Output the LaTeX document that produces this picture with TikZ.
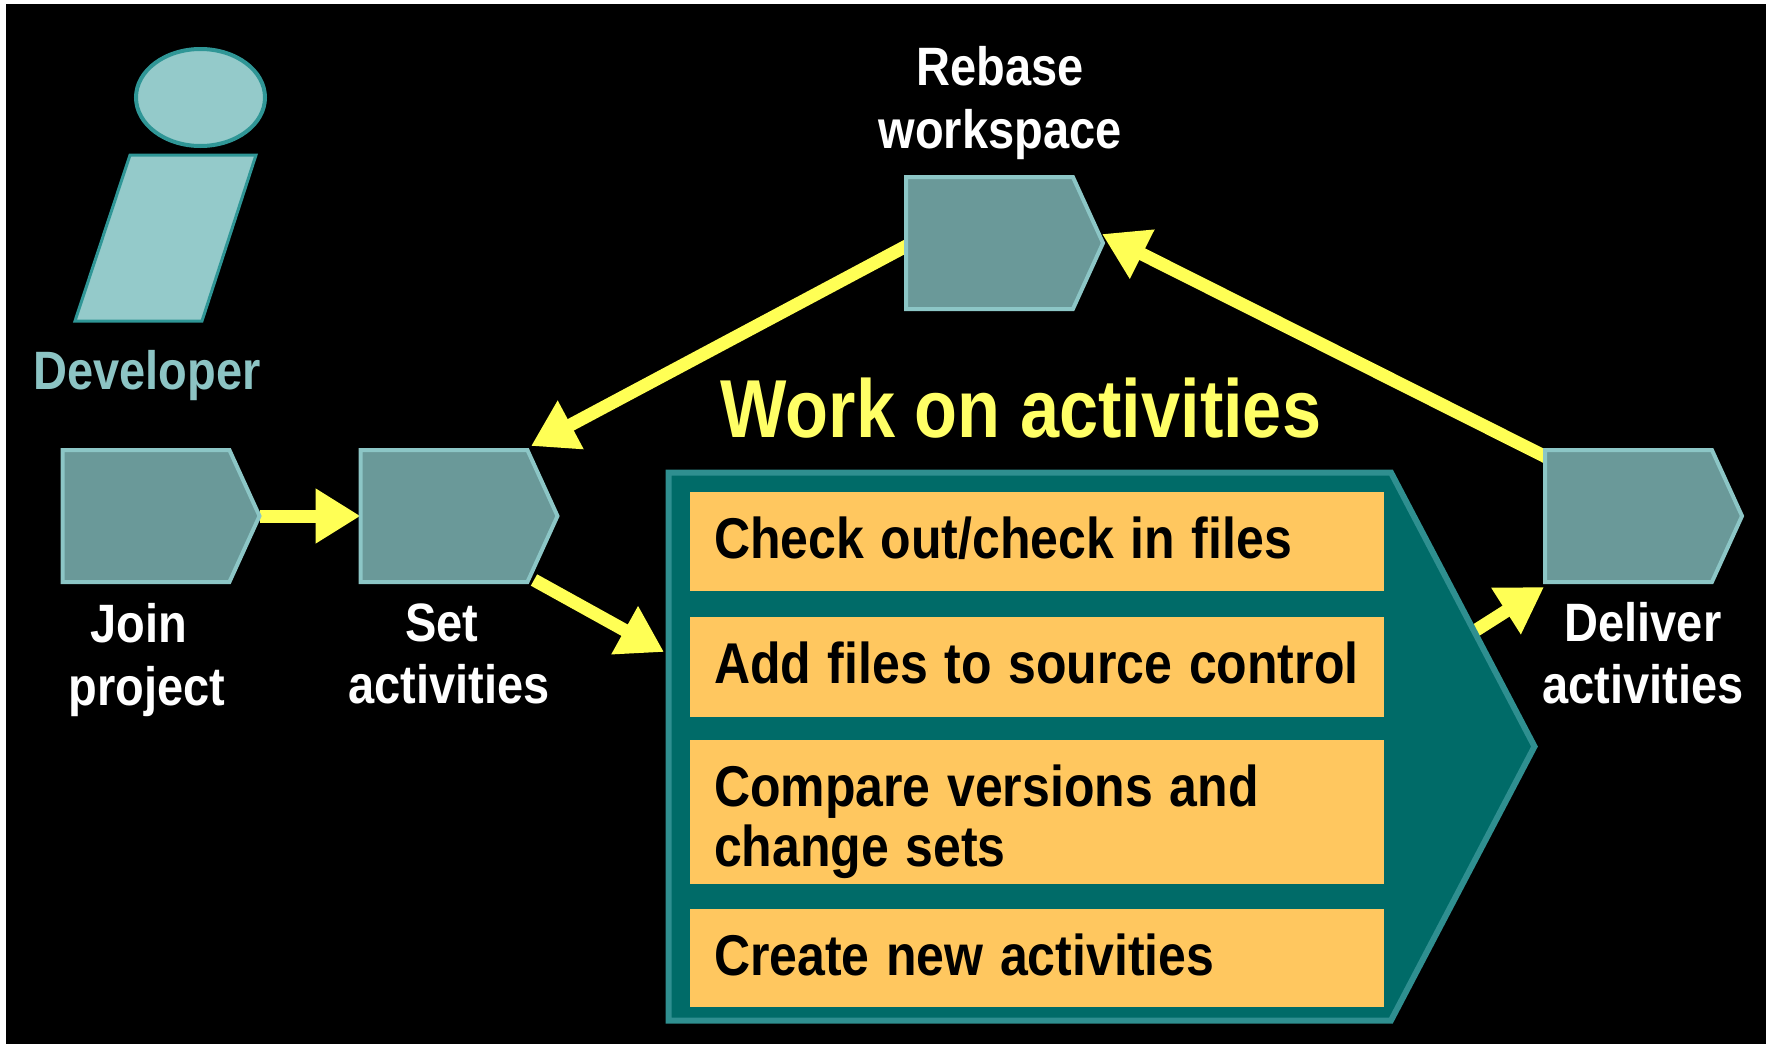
\documentclass[tikz,border=0pt]{standalone}
\usepackage{fontspec}
\setmainfont{Liberation Sans}
\usetikzlibrary{arrows.meta,shapes.symbols,shapes.geometric}
\pgfdeclarelayer{bg}
\pgfdeclarelayer{wires}
\pgfsetlayers{bg,wires,main}
\definecolor{boxfill}{HTML}{6A9999}
\definecolor{boxline}{HTML}{8CC6C6}
\definecolor{actor}{HTML}{94CACA}
\definecolor{actorline}{HTML}{2F9696}
\definecolor{bigfill}{HTML}{006B68}
\definecolor{bigline}{HTML}{2F8F90}
\definecolor{orangebox}{HTML}{FFC75F}
\definecolor{wire}{HTML}{FFFF55}
\definecolor{titleyellow}{HTML}{FFFF66}
\definecolor{devtext}{HTML}{8CC4C4}
\tikzset{
  stepbox/.style={signal,signal to=east,signal pointer angle=131,draw=boxline,fill=boxfill,line width=4pt,
    minimum width=197pt,minimum height=132pt,inner sep=0pt,outer sep=0pt,anchor=west},
  bigbox/.style={signal,signal to=east,signal pointer angle=124.7,draw=bigline,fill=bigfill,line width=6pt,
    minimum width=866pt,minimum height=548pt,inner sep=0pt,outer sep=0pt,anchor=west},
  task/.style={fill=orangebox,anchor=north west,inner ysep=0pt,inner xsep=24pt,text width=646pt,align=left,
    transform shape,yscale=1.15,text=black,font=\bfseries\fontsize{50}{52}\selectfont,outer sep=0pt},
  steplabel/.style={text=white,align=center,inner sep=0pt,transform shape,yscale=1.15,
    font=\bfseries\fontsize{47}{54}\selectfont},
  link/.style={draw=wire,line width=13pt,-{Triangle[length=45pt,width=52pt,color=wire]}},
}
\begin{document}
\begin{tikzpicture}[x=1pt,y=-1pt]
\useasboundingbox (0,0) rectangle (1772,1044);
\begin{pgfonlayer}{bg}
  \fill[white] (0,0) rectangle (1772,1044);
  \fill[black] (6,4) rectangle (1766,1044);
\end{pgfonlayer}
% actor
\node[ellipse,draw=actorline,fill=actor,line width=4pt,minimum width=129pt,minimum height=97pt,inner sep=0pt] (head) at (200.5,97.5) {};
\draw[draw=actorline,fill=actor,line width=3pt] (130,155) -- (256,155) -- (202,321) -- (75,321) -- cycle;
\node[text=devtext,inner sep=0pt,anchor=base,transform shape,yscale=1.15,font=\bfseries\fontsize{47}{54}\selectfont] (dev) at (147,389) {Developer};
% step boxes
\node[stepbox] (join) at (62.5,516) {};
\node[stepbox] (set) at (360.5,516) {};
\node[stepbox] (rebase) at (906,243) {};
\node[stepbox] (deliver) at (1545,516) {};
\node[bigbox] (work) at (668.5,746.5) {};
% labels
\node[steplabel] (joinl) at (147,660) {\hspace*{-16pt}Join\\project};
\node[steplabel] (setl) at (449,654) {\hspace*{-14pt}Set\\activities};
\node[steplabel] (deliverl) at (1643,653) {Deliver\\activities};
\node[steplabel] (rebasel) at (1000,103) {Rebase\\workspace};
\node[text=titleyellow,inner sep=0pt,anchor=base,transform shape,yscale=1.17,font=\bfseries\fontsize{70.3}{80}\selectfont] (title) at (1021,437) {Work on activities};
% tasks
\node[task,text height=57.6pt,text depth=28.5pt] (t1) at (690,492) {\mbox{Check out/check in files}};
\node[task,text height=57.6pt,text depth=29.3pt] (t2) at (690,617) {\mbox{Add files to source control}};
\node[task,text height=58.1pt,text depth=66.9pt] (t3) at (690,740) {Compare versions and\\change sets};
\node[task,text height=57.6pt,text depth=27.9pt] (t4) at (690,909) {\mbox{Create new activities}};
% connectors
\coordinate (setIn) at (531,446);
\coordinate (rebaseOut) at (912,243);
\coordinate (setOut) at (534,580);
\coordinate (workIn) at (664,652);
\coordinate (deliverOut) at (1550,459);
\coordinate (rebaseIn) at (1102,234);
\coordinate (workOut) at (1470,634);
\coordinate (deliverIn) at (1544,587);
\begin{pgfonlayer}{wires}
\draw[link] (join.east) -- (set.west);
\draw[link] (rebaseOut) -- (setIn);
\draw[link] (setOut) -- (workIn);
\draw[link] (deliverOut) -- (rebaseIn);
\draw[link] (workOut) -- (deliverIn);
\end{pgfonlayer}
\end{tikzpicture}
\end{document}
